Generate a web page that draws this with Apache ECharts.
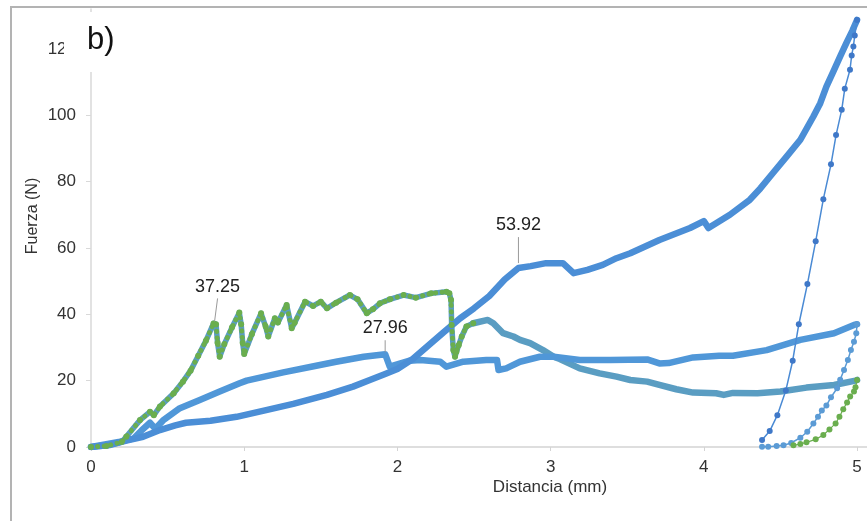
<!DOCTYPE html>
<html><head><meta charset="utf-8">
<script src="https://cdn.jsdelivr.net/npm/echarts@6/dist/echarts.min.js"></script>
<style>html,body{margin:0;padding:0;background:#fff}#c{width:867px;height:521px}</style>
</head><body><div id="c"></div>
<script>
// ---- data (x: Distancia mm, y: Fuerza N) ----
const loadA = [[0,0],[0.12,0.6],[0.23,1.9],[0.34,3.1],[0.45,5.1],[0.55,6.5],[0.62,7.3],[0.78,7.9],[0.95,9.1],[1.15,11.2],[1.32,13],[1.54,15.7],[1.71,18.2],[1.82,20.2],[1.92,22],[2.0,23.5],[2.1,26.5],[2.2,30.5],[2.3,34.5],[2.41,38.8],[2.5,41.8],[2.6,45.5],[2.7,50.5],[2.79,53.92],[2.87,54.5],[2.97,55.4],[3.08,55.4],[3.15,52.4],[3.24,53.4],[3.34,54.9],[3.43,56.9],[3.52,58.4],[3.71,62.4],[3.91,66],[4.0,68.1],[4.03,66],[4.17,70],[4.30,74.5],[4.37,78],[4.45,82.5],[4.54,87.5],[4.63,92.6],[4.715,99.6],[4.76,103.6],[4.80,108.6],[4.845,113.1],[4.89,117.7],[4.93,121.7],[4.97,125.5],[5.0,128.7]];
const unloadA = [[5.0,128.7],[4.985,124],[4.976,120.7],[4.965,118],[4.954,113.7],[4.92,108],[4.90,101.6],[4.863,94],[4.83,85.2],[4.78,74.7],[4.73,62],[4.676,49.1],[4.62,37],[4.58,26],[4.535,17],[4.48,9.6],[4.43,4.8],[4.38,2.1]];
const loadB = [[0,0],[0.19,1.6],[0.28,2.6],[0.33,5],[0.385,7.3],[0.42,5.5],[0.47,8],[0.58,11.7],[0.71,14.2],[0.84,16.7],[0.97,19.2],[1.016,20],[1.255,22.5],[1.47,24.5],[1.60,25.7],[1.78,27.2],[1.92,27.96],[1.95,24.2],[2.08,26],[2.15,26.2],[2.28,25.7],[2.32,24.2],[2.43,25.7],[2.58,26.2],[2.65,26.2],[2.66,23.2],[2.71,23.7],[2.80,25.7],[2.93,27.2],[3.02,27.2],[3.19,26.2],[3.39,26.2],[3.63,26.4],[3.71,25.2],[3.77,25.3],[3.93,27],[4.1,27.5],[4.19,27.5],[4.41,29.2],[4.63,32.3],[4.85,34.3],[4.98,36.8],[5.0,37]];
const unloadB = [[5.0,37],[4.995,34.3],[4.98,31.7],[4.96,29.2],[4.94,26.2],[4.915,23.2],[4.89,20.3],[4.87,17.7],[4.83,15],[4.80,12.5],[4.77,11],[4.745,9.1],[4.715,7.1],[4.675,4.6],[4.63,2.8],[4.57,1.2],[4.52,0.5],[4.475,0.3],[4.42,0.1],[4.38,0.1]];
const loadCzig = [[0,0],[0.1,0.3],[0.2,1.5],[0.23,3.1],[0.32,8.1],[0.385,10.6],[0.41,9.6],[0.45,12.2],[0.54,16.2],[0.60,19.7],[0.65,23],[0.70,27.5],[0.75,32],[0.80,37.25],[0.816,37],[0.826,31.4],[0.84,27.2],[0.87,31],[0.92,36],[0.968,40.5],[0.98,37],[0.99,31.4],[1.0,28],[1.05,34],[1.11,40.3],[1.14,36.3],[1.157,33.3],[1.2,38.8],[1.22,37.5],[1.277,42.8],[1.31,35.8],[1.33,37.5],[1.397,43.8],[1.45,42.5],[1.50,43.8],[1.54,41.8],[1.60,43.5],[1.69,45.8],[1.74,44.5],[1.80,40.3],[1.84,41.5],[1.886,43.3],[1.95,44.5],[2.04,45.8],[2.12,45],[2.22,46.3],[2.32,46.8],[2.339,46.3],[2.35,44.3],[2.354,36.8],[2.365,29.2],[2.376,27.2],[2.385,28.7],[2.40,30.7],[2.42,33.3],[2.45,36.3],[2.495,37.3]];
const loadCtail = [[2.495,37.3],[2.59,38.3],[2.626,37.3],[2.69,34.3],[2.757,33.3],[2.80,32.3],[2.866,31.3],[2.95,29.2],[3.02,27.2],[3.06,26.5],[3.19,23.7],[3.32,22.2],[3.43,21.2],[3.52,20.2],[3.63,19.7],[3.71,18.7],[3.82,17.4],[3.93,16.4],[4.08,16.2],[4.13,15.7],[4.19,16.3],[4.35,16.2],[4.50,16.7],[4.67,17.9],[4.85,18.7],[4.99,20],[5.0,20.2]];
const unloadC = [[5.0,20.2],[4.99,18],[4.98,16.7],[4.955,15.2],[4.935,13.4],[4.91,11.4],[4.885,9.1],[4.86,7.1],[4.82,5.3],[4.78,3.6],[4.73,2.3],[4.67,1.4],[4.63,0.9],[4.585,0.5]];
const annotations = [
  {x:0.80, y:37.25, text:'37.25'},
  {x:1.92, y:27.96, text:'27.96'},
  {x:2.79, y:53.92, text:'53.92'}
];
const xTitle = 'Distancia (mm)';
const yTitle = 'Fuerza (N)';
const panelLabel = 'b)';

// ---- chart ----
const FONT = '"Liberation Sans", Arial, sans-serif';
const near = (v, step) => Math.abs(v/step - Math.round(v/step)) < 1e-6;
const chart = echarts.init(document.getElementById('c'), null, {renderer:'canvas'});
const thick = (data, color, width) => ({type:'line', data, showSymbol:false, symbol:'none', lineStyle:{color, width, cap:'round', join:'round'}, itemStyle:{color}, z:2});
const option = {
  animation:false,
  backgroundColor:'#fff',
  grid:{left:91, right:0, top:9, bottom:74},
  xAxis:{type:'value', min:0, max:5.065, interval:1,
    axisLine:{lineStyle:{color:'#d4d4d4', width:1.5}},
    axisTick:{show:true, length:4, lineStyle:{color:'#d4d4d4'}},
    splitLine:{show:false},
    axisLabel:{showMaxLabel:false, margin:12, color:'#333', fontSize:17, fontFamily:FONT,
      formatter:v => near(v,1) ? String(Math.round(v)) : ''}},
  yAxis:{type:'value', min:0, max:132, interval:20,
    axisLine:{show:true, lineStyle:{color:'#d9d9d9', width:1.5}},
    axisTick:{show:true, length:5, lineStyle:{color:'#d9d9d9'}},
    splitLine:{show:false},
    axisLabel:{showMaxLabel:false, margin:15, color:'#333', fontSize:17, fontFamily:FONT,
      formatter:v => near(v,20) ? String(Math.round(v)) : ''}},
  series:[
    thick(loadCzig, '#5a9dc2', 5.5),
    {type:'line', data:loadCzig, showSymbol:false, symbol:'none',
      lineStyle:{color:'#6aae4e', width:5, type:[0.1,6.5], cap:'round'}, z:3},
    {type:'line', data:loadCzig, symbol:'circle', symbolSize:6, showSymbol:true,
      lineStyle:{width:0, opacity:0}, itemStyle:{color:'#6aae4e'}, z:3},
    thick(loadCtail, '#5a9dc2', 6.5),
    thick(loadB, '#5097d8', 6.5),
    thick(loadA, '#4b8ed6', 6.5),
    {type:'line', data:unloadA, symbol:'circle', symbolSize:6, showSymbol:true,
      lineStyle:{color:'#4a8ad4', width:1.5}, itemStyle:{color:'#3f78c8'}, z:4},
    {type:'line', data:unloadB, symbol:'circle', symbolSize:6, showSymbol:true,
      lineStyle:{color:'#5b9bd5', width:1.5}, itemStyle:{color:'#5b9bd5'}, z:4},
    {type:'line', data:unloadC, symbol:'circle', symbolSize:6, showSymbol:true,
      lineStyle:{color:'#6aae4e', width:1.2}, itemStyle:{color:'#6aae4e'}, z:5}
  ]
};
chart.setOption(option);

// annotation offsets (styling, in px relative to the data point)
const annoStyle = [
  {l0:[1,-2], l1:[4,-25], t:[4,-36]},
  {l0:[0,-2], l1:[0,-14], t:[0,-26]},
  {l0:[0,-5], l1:[0,-31], t:[0,-43]}
];
const gfx = [];
annotations.forEach((a, i) => {
  const p = chart.convertToPixel({gridIndex:0}, [a.x, a.y]);
  const s = annoStyle[i];
  gfx.push({type:'line', shape:{x1:p[0]+s.l0[0], y1:p[1]+s.l0[1], x2:p[0]+s.l1[0], y2:p[1]+s.l1[1]},
    style:{stroke:'#9a9a9a', lineWidth:1}, z:20, silent:true});
  gfx.push({type:'text', x:p[0]+s.t[0], y:p[1]+s.t[1],
    style:{text:a.text, fontSize:18, fontFamily:FONT, fill:'#222', align:'center', verticalAlign:'middle'}, z:20, silent:true});
});
gfx.push({type:'text', x:33, y:216, rotation:Math.PI/2,
  style:{text:yTitle, fontSize:16, fontFamily:FONT, fill:'#333', align:'center', verticalAlign:'middle'}, z:20});
gfx.push({type:'text', x:550, y:487,
  style:{text:xTitle, fontSize:17, fontFamily:FONT, fill:'#333', align:'center', verticalAlign:'middle'}, z:20});
gfx.push({type:'rect', shape:{x:64, y:12, width:58, height:60}, style:{fill:'#fff'}, z:30, silent:true});
gfx.push({type:'text', x:87, y:40,
  style:{text:panelLabel, fontSize:31, fontFamily:FONT, fill:'#111', align:'left', verticalAlign:'middle'}, z:31});
gfx.push({type:'rect', shape:{x:11, y:7, width:900, height:600}, style:{fill:'none', stroke:'#b3b3b3', lineWidth:2}, z:40, silent:true});
chart.setOption({graphic:gfx});
</script>
</body></html>
